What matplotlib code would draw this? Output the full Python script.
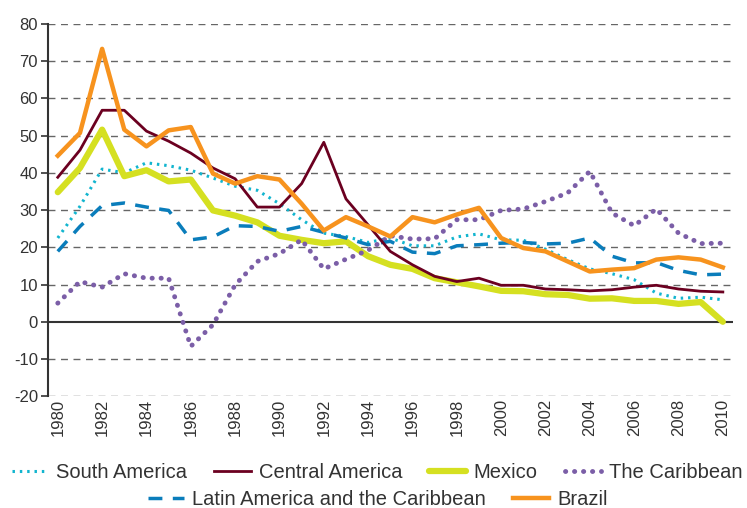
import matplotlib
matplotlib.use("Agg")
import matplotlib.pyplot as plt

plt.rcParams['font.family'] = ['Liberation Sans', 'DejaVu Sans']

years = list(range(1980, 2011))

south_america = [22.5, 31.0, 41.0, 40.0, 42.7, 41.9, 40.7, 38.6, 36.4, 35.3, 31.7, 27.4, 23.8, 22.9, 21.3,
                 22.5, 20.4, 20.4, 22.8, 23.6, 22.0, 21.9, 19.5, 16.7, 14.2, 12.9, 11.3, 7.7, 6.3, 6.6, 5.9]
central_america = [38.8, 46.1, 56.8, 56.8, 51.2, 48.5, 45.3, 41.3, 38.4, 30.8, 30.8, 37.1, 48.2, 33.0, 26.0,
                   18.9, 15.3, 12.2, 10.8, 11.7, 9.8, 9.8, 8.8, 8.6, 8.3, 8.6, 9.3, 9.8, 8.8, 8.2, 8.0]
mexico = [34.8, 41.3, 51.6, 39.1, 40.7, 37.7, 38.2, 29.9, 28.5, 26.7, 23.1, 22.0, 21.1, 21.6, 17.6,
          15.3, 14.2, 11.7, 10.6, 9.5, 8.3, 8.2, 7.4, 7.2, 6.2, 6.3, 5.6, 5.6, 4.8, 5.3, 0.0]
caribbean = [5.0, 10.8, 9.3, 12.9, 11.7, 11.7, -6.6, -0.8, 9.9, 16.2, 18.3, 22.0, 14.2, 16.8, 19.2,
             23.1, 22.2, 22.3, 27.4, 27.4, 29.9, 30.3, 32.3, 34.6, 40.4, 29.2, 25.8, 30.3, 23.8, 21.0, 21.1]
lac = [18.9, 25.6, 31.2, 31.9, 30.8, 29.9, 22.0, 22.8, 25.8, 25.6, 24.3, 25.6, 24.0, 22.5, 20.7,
       21.6, 18.7, 18.3, 20.4, 20.7, 21.1, 21.3, 20.9, 21.1, 22.5, 17.6, 15.8, 15.9, 13.8, 12.6, 12.8]
brazil = [44.6, 50.7, 73.3, 51.6, 47.1, 51.4, 52.3, 39.8, 37.1, 39.1, 38.2, 31.7, 24.5, 28.1, 25.6,
          22.9, 28.1, 26.7, 28.8, 30.6, 22.5, 19.8, 18.9, 16.2, 13.5, 14.0, 14.4, 16.7, 17.3, 16.7, 14.6]

yticks = list(range(-20, 81, 10))
xticks = list(range(1980, 2011, 2))

c_sa = '#12b5cf'
c_ca = '#6b0020'
c_mx = '#d5e021'
c_cb = '#7b5ea7'
c_lac = '#0a7dbb'
c_br = '#f7931e'

fig = plt.figure(figsize=(7.47, 5.08), dpi=100)
ax = fig.add_axes([0.064, 0.220, 0.917, 0.733])

for y in yticks:
    if y == 0:
        continue
    ax.axhline(y, color='#666666', lw=1.0, ls=(0, (5, 4)), zorder=1)
ax.axhline(0, color='#333333', lw=1.5, zorder=2)

l_sa, = ax.plot(years, south_america, color=c_sa, lw=2.2, ls=(0, (0.8, 1.6)), zorder=3)
l_ca, = ax.plot(years, central_america, color=c_ca, lw=2.0, zorder=4)
l_mx, = ax.plot(years, mexico, color=c_mx, lw=4.5, solid_capstyle='round', zorder=3)
l_cb, = ax.plot(years, caribbean, color=c_cb, lw=3.5, ls=(0, (0.05, 1.8)),
                dash_capstyle='round', zorder=3)
l_lac, = ax.plot(years, lac, color=c_lac, lw=2.5, ls=(0, (4, 3)), zorder=3)
l_br, = ax.plot(years, brazil, color=c_br, lw=3.2, zorder=5)

ax.set_xlim(1979.55, 2010.45)
ax.set_ylim(-20, 80)
ax.set_yticks(yticks)
ax.set_xticks(xticks)
ax.set_xticklabels([str(x) for x in xticks], rotation=90, fontsize=12, color='#333333')
ax.set_yticklabels([str(y) for y in yticks], fontsize=12, color='#333333')
for s in ['top', 'right', 'bottom']:
    ax.spines[s].set_visible(False)
ax.spines['left'].set_color('#333333')
ax.spines['left'].set_linewidth(1.5)
ax.tick_params(axis='y', length=5, width=1.2, color='#333333', pad=2)
ax.tick_params(axis='x', length=0, pad=2)

leg_kw = dict(loc='center', frameon=False, fontsize=14.5, handlelength=1.8,
              handletextpad=0.4, columnspacing=1.35, labelcolor='#333333',
              borderpad=0, borderaxespad=0)
leg1 = fig.legend([l_sa, l_ca, l_mx, l_cb],
                  ['South America', 'Central America', 'Mexico', 'The Caribbean'],
                  bbox_to_anchor=(0.505, 0.069), ncol=4, **leg_kw)
leg2 = fig.legend([l_lac, l_br],
                  ['Latin America and the Caribbean', 'Brazil'],
                  bbox_to_anchor=(0.506, 0.016), ncol=2, **leg_kw)

fig.savefig('out.png', dpi=100)
